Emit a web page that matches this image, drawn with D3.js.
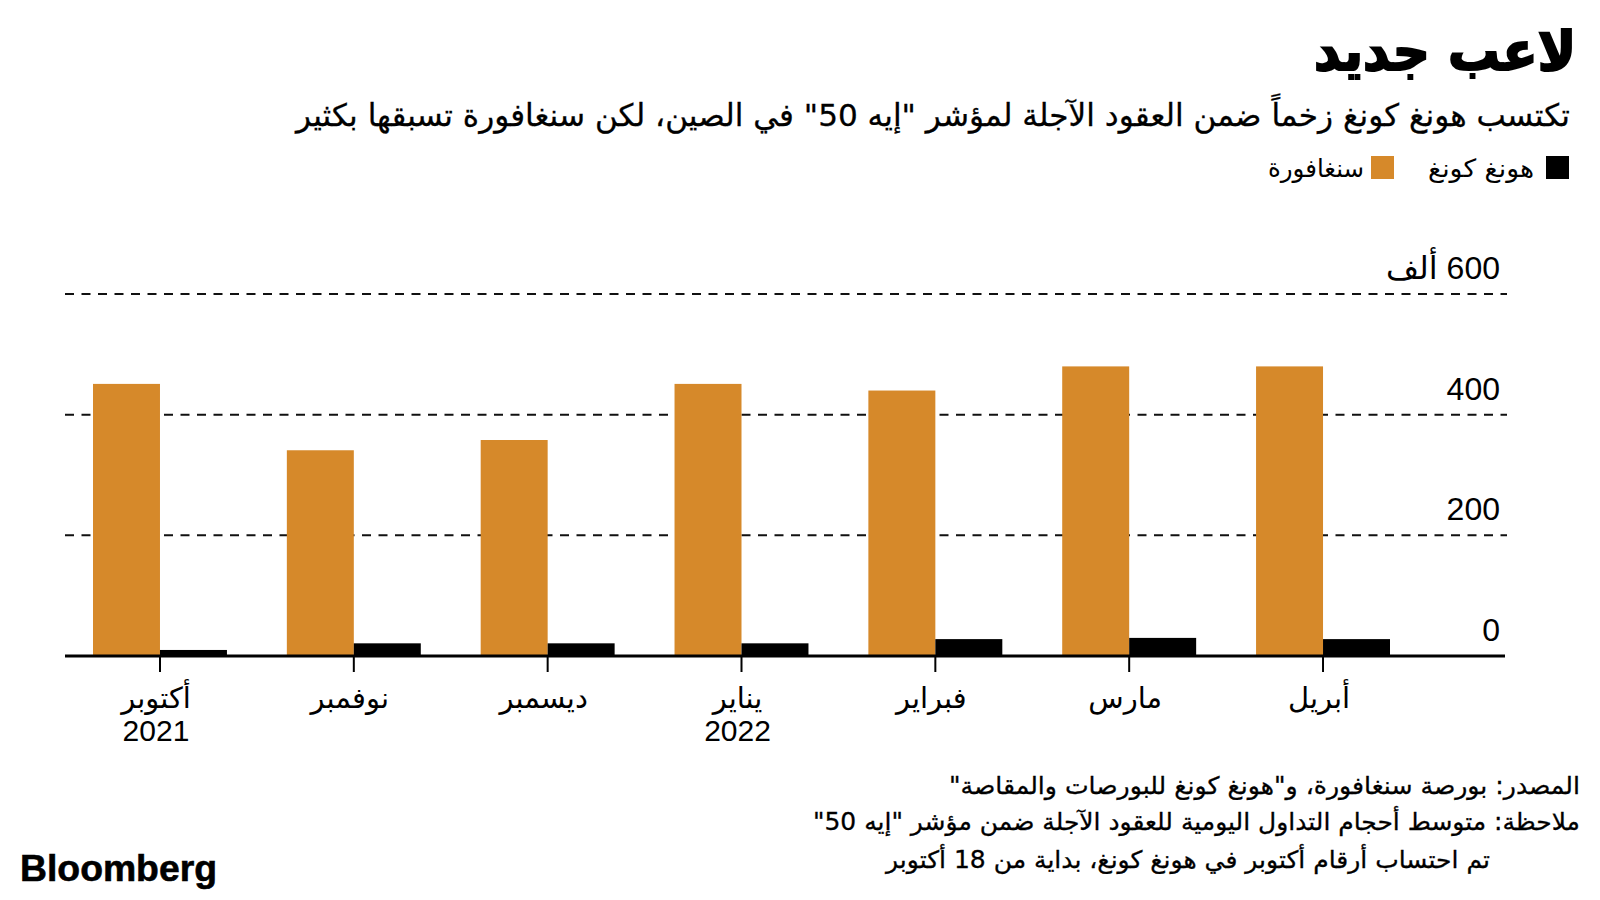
<!DOCTYPE html>
<html><head><meta charset="utf-8">
<script src="https://cdn.jsdelivr.net/npm/d3@7"></script>
<style>body{margin:0;background:#fff} svg{display:block}</style>
</head><body><svg id="c" width="1600" height="900"></svg>
<script>
const months = ["أكتوبر","نوفمبر","ديسمبر","يناير","فبراير","مارس","أبريل"];
const years = ["2021","","","2022","","",""];
const singapore = [451, 341, 358, 451, 440, 480, 480];
const hongKong = [10, 21, 21, 21, 28, 30, 28];
const yTicks = [0, 200, 400, 600];
const yTickLabels = ["0", "200", "400", "600 ألف"];
const seriesNames = ["سنغافورة", "هونغ كونغ"];
const titleText = "لاعب جديد";
const subtitleText = "تكتسب هونغ كونغ زخماً ضمن العقود الآجلة لمؤشر \"إيه 50\" في الصين، لكن سنغافورة تسبقها بكثير";
const footLines = [
  "المصدر: بورصة سنغافورة، و\"هونغ كونغ للبورصات والمقاصة\"",
  "ملاحظة: متوسط أحجام التداول اليومية للعقود الآجلة ضمن مؤشر \"إيه 50\"",
  "تم احتساب أرقام أكتوبر في هونغ كونغ، بداية من 18 أكتوبر"
];

const ORANGE = "#d6892a", BLACK = "#000";
const AR = "'DejaVu Sans', sans-serif";
const NUM = "'Liberation Sans', 'DejaVu Sans', sans-serif";

const svg = d3.select("#c");
const data = months.map((m, i) => ({m, year: years[i], sg: singapore[i], hk: hongKong[i]}));

const x = d3.scaleBand().domain(months).range([93, 1390]).paddingInner(0.309).paddingOuter(0);
const xs = d3.scaleBand().domain(["sg", "hk"]).range([0, x.bandwidth()]);
const y = d3.scaleLinear().domain([0, 600]).range([656, 294]);
const color = d3.scaleOrdinal().domain(["sg", "hk"]).range([ORANGE, BLACK]);

function rtlText(txt, xr, yb, size, weight, len) {
  const t = svg.append("text").attr("x", xr).attr("y", yb)
    .attr("direction", "rtl").attr("text-anchor", "start")
    .style("font-family", AR).style("font-size", size + "px")
    .style("font-weight", weight).attr("fill", "#000").text(txt);
  if (len) t.attr("textLength", len).attr("lengthAdjust", "spacingAndGlyphs");
  return t;
}
rtlText(titleText, 1576, 70, 54, "bold", 262).attr("stroke", "#000").attr("stroke-width", 2.2);
rtlText(subtitleText, 1570, 126, 31, "normal", 1274).attr("stroke", "#000").attr("stroke-width", 0.3);

// legend
const legend = [{k: "hk", name: seriesNames[1], sx: 1546, tx: 1534, len: 106}, {k: "sg", name: seriesNames[0], sx: 1371, tx: 1364, len: 96}];
legend.forEach(l => {
  svg.append("rect").attr("x", l.sx).attr("y", 156).attr("width", 23).attr("height", 23).attr("fill", color(l.k));
  rtlText(l.name, l.tx, 177, 25, "normal", l.len);
});

// gridlines
svg.append("g").selectAll("line").data(yTicks.filter(v => v > 0)).join("line")
  .attr("x1", 65).attr("x2", 1507).attr("y1", d => y(d)).attr("y2", d => y(d))
  .attr("stroke", "#111").attr("stroke-width", 2).attr("stroke-dasharray", "9,7.5");

// y labels
svg.append("g").selectAll("text").data(yTicks).join("text")
  .attr("x", 1500).attr("y", d => y(d) - 15)
  .attr("direction", "rtl").attr("text-anchor", "start")
  .style("font-family", NUM).style("font-size", "32px").attr("fill", "#000")
  .text((d, i) => yTickLabels[i]);

// bars
const groups = svg.append("g").selectAll("g").data(data).join("g")
  .attr("transform", d => `translate(${x(d.m)},0)`);
groups.selectAll("rect").data(d => [{k: "sg", v: d.sg}, {k: "hk", v: d.hk}]).join("rect")
  .attr("x", d => xs(d.k)).attr("width", xs.bandwidth())
  .attr("y", d => y(d.v)).attr("height", d => y(0) - y(d.v))
  .attr("fill", d => color(d.k));

// baseline
svg.append("line").attr("x1", 65).attr("x2", 1505).attr("y1", y(0)).attr("y2", y(0))
  .attr("stroke", "#000").attr("stroke-width", 3);

// x axis
const xAxis = svg.append("g").attr("transform", `translate(0,${y(0)})`)
  .call(d3.axisBottom(x).tickSize(16).tickSizeOuter(0));
xAxis.select(".domain").remove();
xAxis.selectAll(".tick line").attr("stroke", "#000").attr("stroke-width", 2);
xAxis.selectAll(".tick text").attr("y", 52).attr("dy", 0).attr("x", -4)
  .attr("direction", "rtl")
  .style("font-family", AR).style("font-size", "29px").attr("fill", "#000");
xAxis.selectAll(".tick").append("text")
  .attr("y", 85).attr("x", -4).attr("text-anchor", "middle")
  .style("font-family", NUM).style("font-size", "30px").attr("fill", "#000")
  .text((d, i) => years[i]);

// footer
rtlText(footLines[0], 1580, 794, 24, "normal", 631).attr("stroke", "#000").attr("stroke-width", 0.3);
rtlText(footLines[1], 1580, 830, 24, "normal", 767).attr("stroke", "#000").attr("stroke-width", 0.3);
rtlText(footLines[2], 1490, 868, 24, "normal", 604).attr("stroke", "#000").attr("stroke-width", 0.3);

svg.append("text").attr("x", 20).attr("y", 881)
  .style("font-family", "'Liberation Sans', Arial, sans-serif").style("font-weight", "bold")
  .style("font-size", "37px").attr("textLength", 197).attr("lengthAdjust", "spacingAndGlyphs")
  .attr("fill", "#000").attr("stroke", "#000").attr("stroke-width", 0.6).text("Bloomberg");
</script></body></html>
